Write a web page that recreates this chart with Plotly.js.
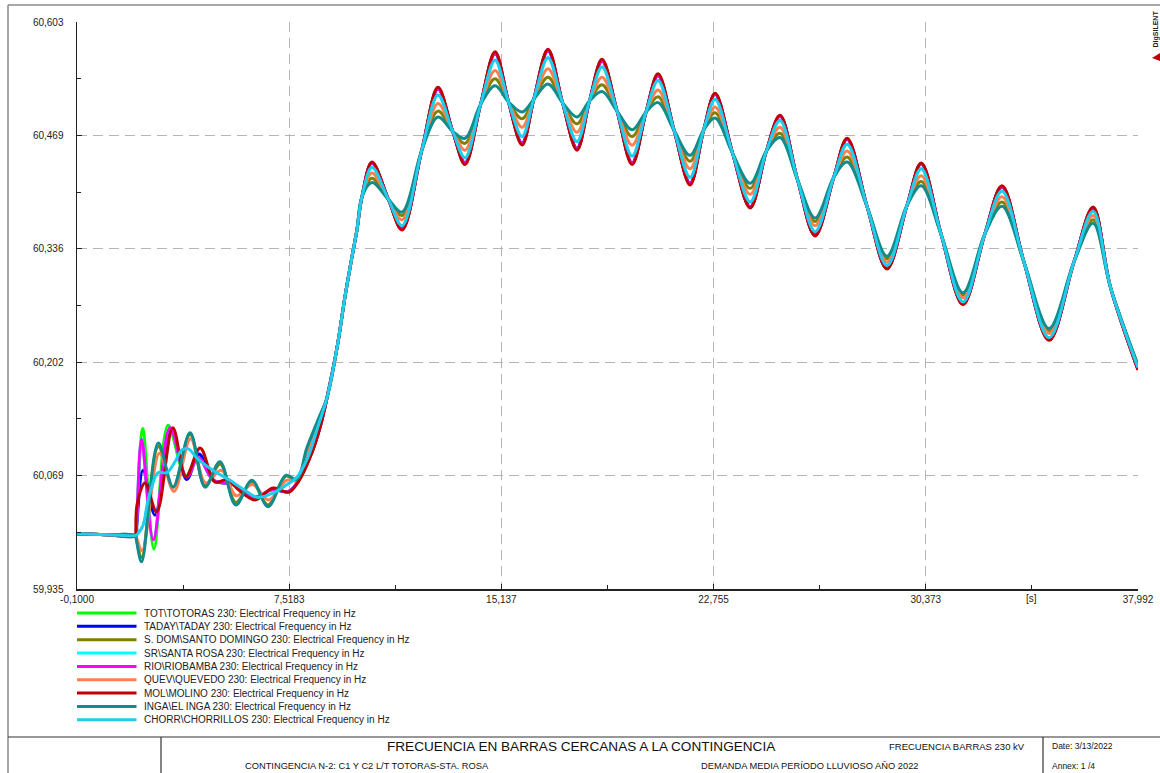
<!DOCTYPE html>
<html>
<head>
<meta charset="utf-8">
<script src="https://cdn.plot.ly/plotly-3.0.1.min.js"></script>
<style>
html,body{margin:0;padding:0;background:#ffffff;}
#chart{width:1160px;height:773px;}
</style>
</head>
<body>
<div id="chart"></div>
<script>
// ---------------- DATA ----------------
const seriesNames = [
  'TOT\\TOTORAS 230: Electrical Frequency in Hz',
  'TADAY\\TADAY 230: Electrical Frequency in Hz',
  'S. DOM\\SANTO DOMINGO 230: Electrical Frequency in Hz',
  'SR\\SANTA ROSA 230: Electrical Frequency in Hz',
  'RIO\\RIOBAMBA 230: Electrical Frequency in Hz',
  'QUEV\\QUEVEDO 230: Electrical Frequency in Hz',
  'MOL\\MOLINO 230: Electrical Frequency in Hz',
  'INGA\\EL INGA 230: Electrical Frequency in Hz',
  'CHORR\\CHORRILLOS 230: Electrical Frequency in Hz'
];

// x axis ticks [s]
const xTickVals = [-0.1, 7.5183, 15.1366, 22.7549, 30.3732, 37.992];
const xTickText = ['-0,1000', '7,5183', '15,137', '22,755', '30,373', '37,992'];
const xMinorVals = [3.7092, 11.3275, 18.9458, 26.5641, 34.1824];
// y axis ticks [Hz]
const yTickVals = [59.935, 60.0686, 60.2022, 60.3358, 60.4694, 60.603];
const yTickText = ['59,935', '60,069', '60,202', '60,336', '60,469', '60,603'];
const yMinorVals = [60.0018, 60.1354, 60.269, 60.4026, 60.5362];

// pre-event steady state (all buses)
const tPre = [-0.1, 1.0, 2.0];
const fPre = [60.000, 59.999, 59.998];

// first seconds after the event, per bus
const tTOT   = [2.04, 2.26, 2.66, 3.17, 3.80, 4.25, 4.80, 5.50, 6.25, 6.90, 7.50, 7.84, 8.34, 8.63];
const fTOT   = [60.012, 60.124, 59.982, 60.128, 60.068, 60.092, 60.063, 60.058, 60.043, 60.052, 60.050, 60.062, 60.097, 60.126];
const tTADAY = [2.04, 2.27, 2.70, 3.28, 3.84, 4.28, 4.80, 5.50, 6.25, 6.90, 7.50, 7.84, 8.34, 8.63];
const fTADAY = [60.008, 60.075, 60.022, 60.122, 60.064, 60.094, 60.063, 60.058, 60.043, 60.052, 60.050, 60.062, 60.097, 60.126];
const tSDOM  = [2.03, 2.22, 2.82, 3.35, 3.96, 4.50, 5.04, 5.60, 6.18, 6.76, 7.40, 7.79, 8.17, 8.57];
const fSDOM  = [59.994, 59.972, 60.103, 60.055, 60.117, 60.057, 60.082, 60.037, 60.061, 60.034, 60.068, 60.064, 60.100, 60.133];
const tSR    = [2.04, 2.22, 2.64, 3.24, 3.84, 4.25, 4.80, 5.50, 6.25, 6.90, 7.50, 7.84, 8.34, 8.63];
const fSR    = [60.012, 60.111, 59.993, 60.125, 60.067, 60.090, 60.063, 60.058, 60.043, 60.052, 60.050, 60.062, 60.097, 60.126];
const tRIO   = [2.04, 2.22, 2.64, 3.24, 3.84, 4.25, 4.80, 5.50, 6.25, 6.90, 7.50, 7.84, 8.34, 8.63];
const fRIO   = [60.012, 60.111, 59.993, 60.125, 60.067, 60.090, 60.063, 60.058, 60.043, 60.052, 60.050, 60.062, 60.097, 60.126];
const tQUEV  = [2.03, 2.24, 2.86, 3.38, 3.98, 4.52, 5.08, 5.62, 6.20, 6.78, 7.42, 7.80, 8.22, 8.60];
const fQUEV  = [59.996, 59.980, 60.095, 60.050, 60.112, 60.060, 60.075, 60.045, 60.058, 60.040, 60.063, 60.063, 60.098, 60.131];
const tMOL   = [2.01, 2.06, 2.34, 2.76, 3.34, 3.81, 4.32, 4.86, 5.30, 5.70, 6.29, 6.94, 7.50, 7.84, 8.34, 8.63];
const fMOL   = [60.003, 60.035, 60.060, 60.026, 60.125, 60.067, 60.101, 60.061, 60.064, 60.052, 60.040, 60.054, 60.049, 60.061, 60.096, 60.126];
const tINGA  = [2.03, 2.22, 2.82, 3.35, 3.96, 4.50, 5.03, 5.60, 6.18, 6.76, 7.40, 7.79, 8.15, 8.55];
const fINGA  = [59.993, 59.967, 60.107, 60.055, 60.119, 60.055, 60.085, 60.034, 60.063, 60.032, 60.069, 60.064, 60.101, 60.134];
const tCHORR = [2.08, 2.27, 2.42, 2.58, 2.81, 3.13, 3.42, 3.67, 3.90, 4.21, 4.78, 5.39, 5.90, 6.36, 6.94, 7.44, 7.80, 8.19, 8.55];
const fCHORR = [60.000, 60.010, 60.035, 60.055, 60.072, 60.072, 60.085, 60.099, 60.100, 60.089, 60.075, 60.063, 60.052, 60.043, 60.048, 60.058, 60.067, 60.090, 60.126];

// common steep rise
const tRise = [8.88, 9.24, 9.52, 9.77, 9.95, 10.13];
const fRise = [60.161, 60.220, 60.279, 60.326, 60.358, 60.397];

// later oscillation: times of peaks / troughs (last = end of run)
const tExt = [10.49, 11.57, 12.86, 13.83, 14.91, 15.88, 16.81, 17.85, 18.75, 19.83, 20.76, 21.91,
              22.81, 24.07, 25.14, 26.40, 27.55, 28.98, 30.21, 31.71, 33.11, 34.80, 36.38, 37.99];
// points where the curves cross each other (common to all buses)
const tCross = [11.08, 12.28, 13.39, 14.39, 15.39, 16.30, 17.33, 18.30, 19.29, 20.33, 21.34, 22.40,
                23.44, 24.65, 25.77, 27.07, 28.27, 29.70, 30.93, 32.49, 33.90, 35.70, 37.00];
const fCross = [60.394, 60.452, 60.474, 60.506, 60.509, 60.512, 60.508, 60.510, 60.498, 60.497, 60.475, 60.476,
                60.448, 60.451, 60.417, 60.420, 60.385, 60.387, 60.352, 60.353, 60.320, 60.321, 60.291];
// peak / trough values per bus
const eTOT   = [60.437, 60.359, 60.524, 60.437, 60.566, 60.460, 60.569, 60.454, 60.557, 60.437, 60.540, 60.413, 60.518, 60.385, 60.492, 60.352, 60.465, 60.313, 60.436, 60.271, 60.409, 60.229, 60.384, 60.194];
const eTADAY = [60.437, 60.359, 60.524, 60.437, 60.566, 60.460, 60.569, 60.454, 60.557, 60.437, 60.540, 60.413, 60.518, 60.385, 60.492, 60.352, 60.465, 60.313, 60.436, 60.271, 60.409, 60.229, 60.384, 60.194];
const eSDOM  = [60.419, 60.375, 60.498, 60.460, 60.536, 60.489, 60.538, 60.483, 60.529, 60.468, 60.515, 60.439, 60.496, 60.407, 60.472, 60.368, 60.444, 60.324, 60.415, 60.281, 60.391, 60.239, 60.370, 60.198];
const eSR    = [60.432, 60.363, 60.517, 60.443, 60.558, 60.468, 60.561, 60.462, 60.550, 60.445, 60.534, 60.420, 60.512, 60.391, 60.487, 60.356, 60.459, 60.316, 60.430, 60.273, 60.404, 60.231, 60.380, 60.196];
const eRIO   = [60.437, 60.359, 60.524, 60.437, 60.566, 60.460, 60.569, 60.454, 60.557, 60.437, 60.540, 60.413, 60.518, 60.385, 60.492, 60.352, 60.465, 60.313, 60.436, 60.271, 60.409, 60.229, 60.384, 60.194];
const eQUEV  = [60.425, 60.370, 60.507, 60.452, 60.546, 60.479, 60.548, 60.473, 60.538, 60.458, 60.523, 60.430, 60.503, 60.400, 60.479, 60.363, 60.451, 60.320, 60.422, 60.278, 60.397, 60.236, 60.375, 60.197];
const eMOL   = [60.438, 60.358, 60.526, 60.435, 60.568, 60.458, 60.571, 60.452, 60.559, 60.435, 60.542, 60.411, 60.519, 60.384, 60.493, 60.351, 60.466, 60.312, 60.437, 60.270, 60.410, 60.228, 60.385, 60.193];
const eINGA  = [60.414, 60.379, 60.491, 60.466, 60.528, 60.497, 60.530, 60.491, 60.521, 60.476, 60.508, 60.446, 60.490, 60.413, 60.467, 60.372, 60.438, 60.327, 60.410, 60.284, 60.386, 60.242, 60.366, 60.199];
const eCHORR = [60.432, 60.363, 60.517, 60.443, 60.558, 60.468, 60.561, 60.462, 60.550, 60.445, 60.534, 60.420, 60.512, 60.391, 60.487, 60.356, 60.459, 60.316, 60.430, 60.273, 60.404, 60.231, 60.380, 60.196];

// ---------------- STYLE ----------------
const seriesColors = ['#00ff00', '#0000ff', '#808000', '#00ffff', '#ff00ff', '#ff7f50', '#c00000', '#108c8c', '#1fcdec'];
const FONT = 'Liberation Sans, Arial, Helvetica, sans-serif';

// ---------------- BUILD ----------------
const early = [[tTOT,fTOT],[tTADAY,fTADAY],[tSDOM,fSDOM],[tSR,fSR],[tRIO,fRIO],[tQUEV,fQUEV],[tMOL,fMOL],[tINGA,fINGA],[tCHORR,fCHORR]];
const lateVals = [eTOT, eTADAY, eSDOM, eSR, eRIO, eQUEV, eMOL, eINGA, eCHORR];

function mergeLate(ext, cross) {
  const out = [];
  for (let i = 0; i < ext.length; i++) {
    out.push(ext[i]);
    if (i < cross.length) out.push(cross[i]);
  }
  return out;
}
const tLate = mergeLate(tExt, tCross);

const traces = seriesNames.map((name, i) => ({
  type: 'scatter',
  mode: 'lines',
  name: name,
  x: tPre.concat(early[i][0], tRise, tLate),
  y: fPre.concat(early[i][1], fRise, mergeLate(lateVals[i], fCross)),
  line: {color: seriesColors[i], width: 3, shape: 'spline', smoothing: 1},
  hoverinfo: 'skip',
  showlegend: false
}));

// plot area in page pixels
const PL = 77, PR = 1138, PT = 22, PB = 589;
const px = x => (x - PL) / (PR - PL);
const py = y => (PB - y) / (PB - PT);

const shapes = [];
const annotations = [];

// legend (manual, DIgSILENT style)
seriesNames.forEach((name, i) => {
  const yy = 613 + 13.35 * i;
  shapes.push({type: 'line', xref: 'paper', yref: 'paper', x0: px(77), x1: px(136.5), y0: py(yy), y1: py(yy),
               line: {color: seriesColors[i], width: 3}});
  annotations.push({xref: 'paper', yref: 'paper', x: px(142), y: py(yy), xanchor: 'left', yanchor: 'middle',
                    text: name, showarrow: false, font: {family: FONT, size: 10, color: '#222'}});
});

// unit label on x axis
annotations.push({xref: 'paper', yref: 'paper', x: px(1031), y: py(591), xanchor: 'center', yanchor: 'top',
                  text: '[s]', showarrow: false, font: {family: FONT, size: 10, color: '#222'}});

// page frame
shapes.push({type: 'line', xref: 'paper', yref: 'paper', x0: px(8), x1: px(8), y0: py(5), y1: py(773), line: {color: '#8a8a8a', width: 1.5}});
shapes.push({type: 'line', xref: 'paper', yref: 'paper', x0: px(8), x1: px(1160), y0: py(5), y1: py(5), line: {color: '#8a8a8a', width: 1.5}});
// title block
shapes.push({type: 'line', xref: 'paper', yref: 'paper', x0: px(8), x1: px(1160), y0: py(737), y1: py(737), line: {color: '#333', width: 1.2}});
shapes.push({type: 'line', xref: 'paper', yref: 'paper', x0: px(161), x1: px(161), y0: py(737), y1: py(773), line: {color: '#333', width: 1.2}});
shapes.push({type: 'line', xref: 'paper', yref: 'paper', x0: px(1043), x1: px(1043), y0: py(737), y1: py(773), line: {color: '#333', width: 1.2}});
// DIgSILENT mark
shapes.push({type: 'path', xref: 'paper', yref: 'paper',
             path: 'M ' + px(1152) + ' ' + py(58) + ' L ' + px(1160) + ' ' + py(53) + ' L ' + px(1160) + ' ' + py(61) + ' Z',
             fillcolor: '#c00000', line: {width: 0}});
annotations.push({xref: 'paper', yref: 'paper', x: px(1155.5), y: py(29), xanchor: 'center', yanchor: 'middle',
                  text: '<b>DIgSILENT</b>', textangle: -90, showarrow: false, font: {family: FONT, size: 7, color: '#222'}});

const tb = (text, x, y, size, anchor) => annotations.push({xref: 'paper', yref: 'paper', x: px(x), y: py(y),
  xanchor: anchor, yanchor: 'middle', text: text, showarrow: false, font: {family: FONT, size: size, color: '#111'}});
tb('FRECUENCIA EN BARRAS CERCANAS A LA CONTINGENCIA', 581, 746, 13.6, 'center');
tb('FRECUENCIA BARRAS 230 kV', 887, 746, 9.5, 'left');
tb('CONTINGENCIA N-2: C1 Y C2 L/T TOTORAS-STA. ROSA', 243, 766, 9.3, 'left');
tb('DEMANDA MEDIA PERÍODO LLUVIOSO AÑO 2022', 699, 766, 9.3, 'left');
tb('Date: 3/13/2022', 1050, 746, 8.5, 'left');
tb('Annex: 1 /4', 1050, 766, 8.5, 'left');

const layout = {
  width: 1160, height: 773,
  margin: {l: PL, r: 1160 - PR, t: PT, b: 773 - PB, pad: 0},
  paper_bgcolor: '#ffffff', plot_bgcolor: '#ffffff',
  showlegend: false,
  font: {family: FONT, size: 10, color: '#222'},
  xaxis: {
    range: [-0.1, 37.992], tickmode: 'array', tickvals: xTickVals, ticktext: xTickText,
    showgrid: true, gridcolor: '#b4b4b4', gridwidth: 1, griddash: '10px,6px',
    showline: true, linecolor: '#222', linewidth: 1.5, zeroline: false,
    ticks: 'inside', ticklen: 5, tickcolor: '#222', tickwidth: 1,
    tickfont: {family: FONT, size: 10, color: '#222'},
    minor: {tickmode: 'array', tickvals: xMinorVals, ticks: 'inside', ticklen: 4, tickcolor: '#222', tickwidth: 1, showgrid: false},
    fixedrange: true
  },
  yaxis: {
    range: [59.935, 60.603], tickmode: 'array', tickvals: yTickVals, ticktext: yTickText,
    showgrid: true, gridcolor: '#b4b4b4', gridwidth: 1, griddash: '10px,6px',
    showline: true, linecolor: '#222', linewidth: 1.5, zeroline: false,
    ticks: 'inside', ticklen: 5, tickcolor: '#222', tickwidth: 1,
    ticklabelstandoff: 10,
    tickfont: {family: FONT, size: 10, color: '#222'},
    minor: {tickmode: 'array', tickvals: yMinorVals, ticks: 'inside', ticklen: 4, tickcolor: '#222', tickwidth: 1, showgrid: false},
    fixedrange: true
  },
  shapes: shapes,
  annotations: annotations
};

Plotly.newPlot('chart', traces, layout, {displayModeBar: false, staticPlot: true});
</script>
</body>
</html>
